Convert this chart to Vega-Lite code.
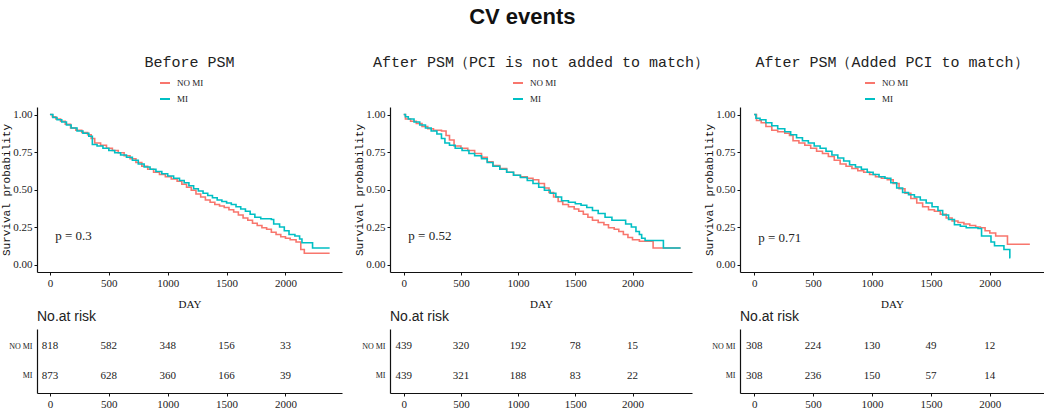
{
  "$schema": "https://vega.github.io/schema/vega-lite/v6.json",
  "padding": {"left": 0, "top": 6, "right": 0, "bottom": 0},
  "title": {"text": "CV events", "font": "Liberation Sans", "fontSize": 22, "fontWeight": "bold", "anchor": "middle", "color": "#111", "offset": 26},
  "datasets": {
    "km1": [
      {"group":"NO MI","day":0,"surv":1.0},{"group":"NO MI","day":20,"surv":0.985},{"group":"NO MI","day":50,"surv":0.97},{"group":"NO MI","day":90,"surv":0.955},{"group":"NO MI","day":130,"surv":0.935},{"group":"NO MI","day":175,"surv":0.91},{"group":"NO MI","day":220,"surv":0.895},{"group":"NO MI","day":270,"surv":0.88},{"group":"NO MI","day":320,"surv":0.865},{"group":"NO MI","day":350,"surv":0.84},{"group":"NO MI","day":380,"surv":0.81},{"group":"NO MI","day":430,"surv":0.795},{"group":"NO MI","day":480,"surv":0.775},{"group":"NO MI","day":530,"surv":0.76},{"group":"NO MI","day":580,"surv":0.745},{"group":"NO MI","day":630,"surv":0.725},{"group":"NO MI","day":680,"surv":0.705},{"group":"NO MI","day":730,"surv":0.68},{"group":"NO MI","day":780,"surv":0.655},{"group":"NO MI","day":830,"surv":0.635},{"group":"NO MI","day":880,"surv":0.615},{"group":"NO MI","day":930,"surv":0.6},{"group":"NO MI","day":980,"surv":0.585},{"group":"NO MI","day":1030,"surv":0.57},{"group":"NO MI","day":1080,"surv":0.555},{"group":"NO MI","day":1120,"surv":0.535},{"group":"NO MI","day":1160,"surv":0.515},{"group":"NO MI","day":1200,"surv":0.495},{"group":"NO MI","day":1240,"surv":0.47},{"group":"NO MI","day":1280,"surv":0.45},{"group":"NO MI","day":1320,"surv":0.43},{"group":"NO MI","day":1360,"surv":0.415},{"group":"NO MI","day":1400,"surv":0.4},{"group":"NO MI","day":1440,"surv":0.39},{"group":"NO MI","day":1480,"surv":0.38},{"group":"NO MI","day":1520,"surv":0.365},{"group":"NO MI","day":1560,"surv":0.35},{"group":"NO MI","day":1600,"surv":0.33},{"group":"NO MI","day":1640,"surv":0.31},{"group":"NO MI","day":1680,"surv":0.295},{"group":"NO MI","day":1720,"surv":0.275},{"group":"NO MI","day":1760,"surv":0.26},{"group":"NO MI","day":1800,"surv":0.245},{"group":"NO MI","day":1840,"surv":0.235},{"group":"NO MI","day":1880,"surv":0.215},{"group":"NO MI","day":1920,"surv":0.2},{"group":"NO MI","day":1960,"surv":0.185},{"group":"NO MI","day":2000,"surv":0.175},{"group":"NO MI","day":2040,"surv":0.165},{"group":"NO MI","day":2090,"surv":0.15},{"group":"NO MI","day":2130,"surv":0.1},{"group":"NO MI","day":2160,"surv":0.075},{"group":"NO MI","day":2375,"surv":0.075},
      {"group":"MI","day":0,"surv":1.0},{"group":"MI","day":25,"surv":0.98},{"group":"MI","day":60,"surv":0.965},{"group":"MI","day":100,"surv":0.95},{"group":"MI","day":140,"surv":0.93},{"group":"MI","day":180,"surv":0.91},{"group":"MI","day":230,"surv":0.89},{"group":"MI","day":280,"surv":0.875},{"group":"MI","day":330,"surv":0.855},{"group":"MI","day":360,"surv":0.8},{"group":"MI","day":400,"surv":0.79},{"group":"MI","day":450,"surv":0.775},{"group":"MI","day":500,"surv":0.76},{"group":"MI","day":550,"surv":0.745},{"group":"MI","day":600,"surv":0.73},{"group":"MI","day":650,"surv":0.715},{"group":"MI","day":700,"surv":0.695},{"group":"MI","day":750,"surv":0.67},{"group":"MI","day":800,"surv":0.65},{"group":"MI","day":850,"surv":0.635},{"group":"MI","day":900,"surv":0.62},{"group":"MI","day":950,"surv":0.605},{"group":"MI","day":1000,"surv":0.59},{"group":"MI","day":1050,"surv":0.575},{"group":"MI","day":1100,"surv":0.56},{"group":"MI","day":1140,"surv":0.545},{"group":"MI","day":1180,"surv":0.525},{"group":"MI","day":1220,"surv":0.505},{"group":"MI","day":1260,"surv":0.49},{"group":"MI","day":1300,"surv":0.475},{"group":"MI","day":1340,"surv":0.46},{"group":"MI","day":1380,"surv":0.445},{"group":"MI","day":1420,"surv":0.43},{"group":"MI","day":1460,"surv":0.42},{"group":"MI","day":1500,"surv":0.41},{"group":"MI","day":1540,"surv":0.4},{"group":"MI","day":1580,"surv":0.385},{"group":"MI","day":1620,"surv":0.37},{"group":"MI","day":1660,"surv":0.355},{"group":"MI","day":1700,"surv":0.335},{"group":"MI","day":1740,"surv":0.315},{"group":"MI","day":1790,"surv":0.305},{"group":"MI","day":1880,"surv":0.3},{"group":"MI","day":1900,"surv":0.27},{"group":"MI","day":1950,"surv":0.25},{"group":"MI","day":1990,"surv":0.225},{"group":"MI","day":2030,"surv":0.2},{"group":"MI","day":2080,"surv":0.19},{"group":"MI","day":2120,"surv":0.17},{"group":"MI","day":2140,"surv":0.145},{"group":"MI","day":2230,"surv":0.11},{"group":"MI","day":2375,"surv":0.11}
    ],
    "km2": [
      {"group":"NO MI","day":0,"surv":1.0},{"group":"NO MI","day":15,"surv":0.97},{"group":"NO MI","day":60,"surv":0.955},{"group":"NO MI","day":110,"surv":0.94},{"group":"NO MI","day":160,"surv":0.92},{"group":"NO MI","day":210,"surv":0.905},{"group":"NO MI","day":260,"surv":0.895},{"group":"NO MI","day":330,"surv":0.89},{"group":"NO MI","day":370,"surv":0.86},{"group":"NO MI","day":400,"surv":0.83},{"group":"NO MI","day":440,"surv":0.79},{"group":"NO MI","day":500,"surv":0.775},{"group":"NO MI","day":560,"surv":0.76},{"group":"NO MI","day":620,"surv":0.74},{"group":"NO MI","day":680,"surv":0.715},{"group":"NO MI","day":730,"surv":0.685},{"group":"NO MI","day":780,"surv":0.66},{"group":"NO MI","day":840,"surv":0.64},{"group":"NO MI","day":900,"surv":0.615},{"group":"NO MI","day":960,"surv":0.595},{"group":"NO MI","day":1020,"surv":0.585},{"group":"NO MI","day":1080,"surv":0.575},{"group":"NO MI","day":1130,"surv":0.565},{"group":"NO MI","day":1180,"surv":0.54},{"group":"NO MI","day":1230,"surv":0.51},{"group":"NO MI","day":1270,"surv":0.48},{"group":"NO MI","day":1310,"surv":0.45},{"group":"NO MI","day":1350,"surv":0.42},{"group":"NO MI","day":1390,"surv":0.4},{"group":"NO MI","day":1440,"surv":0.385},{"group":"NO MI","day":1490,"surv":0.37},{"group":"NO MI","day":1530,"surv":0.355},{"group":"NO MI","day":1570,"surv":0.335},{"group":"NO MI","day":1610,"surv":0.315},{"group":"NO MI","day":1650,"surv":0.295},{"group":"NO MI","day":1700,"surv":0.28},{"group":"NO MI","day":1750,"surv":0.265},{"group":"NO MI","day":1790,"surv":0.245},{"group":"NO MI","day":1840,"surv":0.235},{"group":"NO MI","day":1880,"surv":0.22},{"group":"NO MI","day":1920,"surv":0.2},{"group":"NO MI","day":1960,"surv":0.18},{"group":"NO MI","day":2000,"surv":0.165},{"group":"NO MI","day":2060,"surv":0.155},{"group":"NO MI","day":2180,"surv":0.11},{"group":"NO MI","day":2420,"surv":0.11},
      {"group":"MI","day":0,"surv":1.0},{"group":"MI","day":15,"surv":0.985},{"group":"MI","day":40,"surv":0.97},{"group":"MI","day":90,"surv":0.95},{"group":"MI","day":140,"surv":0.93},{"group":"MI","day":190,"surv":0.91},{"group":"MI","day":240,"surv":0.89},{"group":"MI","day":290,"surv":0.87},{"group":"MI","day":330,"surv":0.84},{"group":"MI","day":360,"surv":0.81},{"group":"MI","day":400,"surv":0.795},{"group":"MI","day":450,"surv":0.775},{"group":"MI","day":510,"surv":0.76},{"group":"MI","day":570,"surv":0.74},{"group":"MI","day":620,"surv":0.725},{"group":"MI","day":680,"surv":0.705},{"group":"MI","day":730,"surv":0.68},{"group":"MI","day":780,"surv":0.655},{"group":"MI","day":840,"surv":0.635},{"group":"MI","day":900,"surv":0.615},{"group":"MI","day":960,"surv":0.595},{"group":"MI","day":1020,"surv":0.58},{"group":"MI","day":1080,"surv":0.56},{"group":"MI","day":1130,"surv":0.54},{"group":"MI","day":1180,"surv":0.515},{"group":"MI","day":1230,"surv":0.495},{"group":"MI","day":1280,"surv":0.475},{"group":"MI","day":1330,"surv":0.45},{"group":"MI","day":1380,"surv":0.425},{"group":"MI","day":1440,"surv":0.415},{"group":"MI","day":1500,"surv":0.405},{"group":"MI","day":1550,"surv":0.395},{"group":"MI","day":1600,"surv":0.38},{"group":"MI","day":1650,"surv":0.36},{"group":"MI","day":1700,"surv":0.34},{"group":"MI","day":1760,"surv":0.315},{"group":"MI","day":1820,"surv":0.295},{"group":"MI","day":1940,"surv":0.27},{"group":"MI","day":1990,"surv":0.25},{"group":"MI","day":2030,"surv":0.22},{"group":"MI","day":2060,"surv":0.2},{"group":"MI","day":2080,"surv":0.175},{"group":"MI","day":2110,"surv":0.16},{"group":"MI","day":2270,"surv":0.11},{"group":"MI","day":2420,"surv":0.11}
    ],
    "km3": [
      {"group":"NO MI","day":0,"surv":1.0},{"group":"NO MI","day":20,"surv":0.96},{"group":"NO MI","day":60,"surv":0.945},{"group":"NO MI","day":100,"surv":0.92},{"group":"NO MI","day":150,"surv":0.895},{"group":"NO MI","day":200,"surv":0.885},{"group":"NO MI","day":260,"surv":0.875},{"group":"NO MI","day":300,"surv":0.86},{"group":"NO MI","day":330,"surv":0.825},{"group":"NO MI","day":380,"surv":0.81},{"group":"NO MI","day":430,"surv":0.795},{"group":"NO MI","day":480,"surv":0.775},{"group":"NO MI","day":530,"surv":0.755},{"group":"NO MI","day":580,"surv":0.74},{"group":"NO MI","day":630,"surv":0.72},{"group":"NO MI","day":680,"surv":0.695},{"group":"NO MI","day":730,"surv":0.67},{"group":"NO MI","day":780,"surv":0.655},{"group":"NO MI","day":830,"surv":0.64},{"group":"NO MI","day":880,"surv":0.625},{"group":"NO MI","day":930,"surv":0.615},{"group":"NO MI","day":980,"surv":0.6},{"group":"NO MI","day":1030,"surv":0.585},{"group":"NO MI","day":1080,"surv":0.575},{"group":"NO MI","day":1130,"surv":0.565},{"group":"NO MI","day":1180,"surv":0.54},{"group":"NO MI","day":1230,"surv":0.505},{"group":"NO MI","day":1280,"surv":0.475},{"group":"NO MI","day":1330,"surv":0.44},{"group":"NO MI","day":1380,"surv":0.41},{"group":"NO MI","day":1430,"surv":0.385},{"group":"NO MI","day":1480,"surv":0.365},{"group":"NO MI","day":1530,"surv":0.355},{"group":"NO MI","day":1580,"surv":0.335},{"group":"NO MI","day":1630,"surv":0.31},{"group":"NO MI","day":1680,"surv":0.29},{"group":"NO MI","day":1730,"surv":0.28},{"group":"NO MI","day":1780,"surv":0.27},{"group":"NO MI","day":1830,"surv":0.26},{"group":"NO MI","day":1880,"surv":0.25},{"group":"NO MI","day":1920,"surv":0.245},{"group":"NO MI","day":1960,"surv":0.225},{"group":"NO MI","day":2000,"surv":0.21},{"group":"NO MI","day":2050,"surv":0.19},{"group":"NO MI","day":2150,"surv":0.135},{"group":"NO MI","day":2340,"surv":0.135},
      {"group":"MI","day":0,"surv":1.0},{"group":"MI","day":15,"surv":0.975},{"group":"MI","day":50,"surv":0.965},{"group":"MI","day":100,"surv":0.945},{"group":"MI","day":150,"surv":0.925},{"group":"MI","day":200,"surv":0.905},{"group":"MI","day":260,"surv":0.885},{"group":"MI","day":310,"surv":0.865},{"group":"MI","day":360,"surv":0.845},{"group":"MI","day":410,"surv":0.825},{"group":"MI","day":460,"surv":0.81},{"group":"MI","day":510,"surv":0.79},{"group":"MI","day":560,"surv":0.775},{"group":"MI","day":610,"surv":0.755},{"group":"MI","day":660,"surv":0.73},{"group":"MI","day":710,"surv":0.71},{"group":"MI","day":760,"surv":0.69},{"group":"MI","day":810,"surv":0.665},{"group":"MI","day":860,"surv":0.65},{"group":"MI","day":910,"surv":0.635},{"group":"MI","day":960,"surv":0.615},{"group":"MI","day":1010,"surv":0.6},{"group":"MI","day":1060,"surv":0.585},{"group":"MI","day":1110,"surv":0.575},{"group":"MI","day":1160,"surv":0.545},{"group":"MI","day":1210,"surv":0.51},{"group":"MI","day":1260,"surv":0.48},{"group":"MI","day":1310,"surv":0.465},{"group":"MI","day":1360,"surv":0.45},{"group":"MI","day":1410,"surv":0.43},{"group":"MI","day":1460,"surv":0.41},{"group":"MI","day":1510,"surv":0.385},{"group":"MI","day":1560,"surv":0.36},{"group":"MI","day":1600,"surv":0.33},{"group":"MI","day":1650,"surv":0.3},{"group":"MI","day":1700,"surv":0.265},{"group":"MI","day":1750,"surv":0.255},{"group":"MI","day":1800,"surv":0.245},{"group":"MI","day":1900,"surv":0.24},{"group":"MI","day":1930,"surv":0.19},{"group":"MI","day":2010,"surv":0.15},{"group":"MI","day":2040,"surv":0.125},{"group":"MI","day":2120,"surv":0.1},{"group":"MI","day":2170,"surv":0.045},{"group":"MI","day":2175,"surv":0.045}
    ],
    "risk1": [
      {"group":"NO MI","day":0,"n":818},{"group":"NO MI","day":500,"n":582},{"group":"NO MI","day":1000,"n":348},{"group":"NO MI","day":1500,"n":156},{"group":"NO MI","day":2000,"n":33},
      {"group":"MI","day":0,"n":873},{"group":"MI","day":500,"n":628},{"group":"MI","day":1000,"n":360},{"group":"MI","day":1500,"n":166},{"group":"MI","day":2000,"n":39}
    ],
    "risk2": [
      {"group":"NO MI","day":0,"n":439},{"group":"NO MI","day":500,"n":320},{"group":"NO MI","day":1000,"n":192},{"group":"NO MI","day":1500,"n":78},{"group":"NO MI","day":2000,"n":15},
      {"group":"MI","day":0,"n":439},{"group":"MI","day":500,"n":321},{"group":"MI","day":1000,"n":188},{"group":"MI","day":1500,"n":83},{"group":"MI","day":2000,"n":22}
    ],
    "risk3": [
      {"group":"NO MI","day":0,"n":308},{"group":"NO MI","day":500,"n":224},{"group":"NO MI","day":1000,"n":130},{"group":"NO MI","day":1500,"n":49},{"group":"NO MI","day":2000,"n":12},
      {"group":"MI","day":0,"n":308},{"group":"MI","day":500,"n":236},{"group":"MI","day":1000,"n":150},{"group":"MI","day":1500,"n":57},{"group":"MI","day":2000,"n":14}
    ]
  },
  "vconcat": [
    {
      "hconcat": [
        {
          "title": {"text": "Before PSM"},
          "width": 305, "height": 165,
          "layer": [
            {
              "data": {"name": "km1"},
              "mark": {"type": "line", "interpolate": "step-after", "strokeWidth": 1.6},
              "encoding": {
                "x": {"field": "day", "type": "quantitative", "scale": {"domain": [-110, 2480], "nice": false, "zero": false}, "axis": {"values": [0, 500, 1000, 1500, 2000], "format": "d", "title": "DAY"}},
                "y": {"field": "surv", "type": "quantitative", "scale": {"domain": [-0.05, 1.05], "nice": false}, "axis": {"values": [0, 0.25, 0.5, 0.75, 1], "format": ".2f", "title": "Survival probability"}},
                "color": {"field": "group", "type": "nominal", "scale": {"domain": ["NO MI", "MI"], "range": ["#F8766D", "#00BFC4"]}, "legend": {"orient": "none", "legendX": 122, "legendY": -30}}
              }
            },
            {
              "data": {"values": [{"day": 45, "surv": 0.19, "label": "p = 0.3"}]},
              "mark": {"type": "text", "align": "left", "baseline": "middle", "font": "Liberation Serif", "fontSize": 13, "color": "#222"},
              "encoding": {"x": {"field": "day", "type": "quantitative"}, "y": {"field": "surv", "type": "quantitative"}, "text": {"field": "label"}}
            }
          ]
        },
        {
          "title": {"text": "After PSM（PCI is not added to match）"},
          "width": 302, "height": 165,
          "layer": [
            {
              "data": {"name": "km2"},
              "mark": {"type": "line", "interpolate": "step-after", "strokeWidth": 1.6},
              "encoding": {
                "x": {"field": "day", "type": "quantitative", "scale": {"domain": [-120, 2520], "nice": false, "zero": false}, "axis": {"values": [0, 500, 1000, 1500, 2000], "format": "d", "title": "DAY"}},
                "y": {"field": "surv", "type": "quantitative", "scale": {"domain": [-0.05, 1.05], "nice": false}, "axis": {"values": [0, 0.25, 0.5, 0.75, 1], "format": ".2f", "title": "Survival probability"}},
                "color": {"field": "group", "type": "nominal", "scale": {"domain": ["NO MI", "MI"], "range": ["#F8766D", "#00BFC4"]}, "legend": {"orient": "none", "legendX": 122, "legendY": -30}}
              }
            },
            {
              "data": {"values": [{"day": 40, "surv": 0.19, "label": "p = 0.52"}]},
              "mark": {"type": "text", "align": "left", "baseline": "middle", "font": "Liberation Serif", "fontSize": 13, "color": "#222"},
              "encoding": {"x": {"field": "day", "type": "quantitative"}, "y": {"field": "surv", "type": "quantitative"}, "text": {"field": "label"}}
            }
          ]
        },
        {
          "title": {"text": "After PSM（Added PCI to match）"},
          "width": 304, "height": 165,
          "layer": [
            {
              "data": {"name": "km3"},
              "mark": {"type": "line", "interpolate": "step-after", "strokeWidth": 1.6},
              "encoding": {
                "x": {"field": "day", "type": "quantitative", "scale": {"domain": [-120, 2460], "nice": false, "zero": false}, "axis": {"values": [0, 500, 1000, 1500, 2000], "format": "d", "title": "DAY"}},
                "y": {"field": "surv", "type": "quantitative", "scale": {"domain": [-0.05, 1.05], "nice": false}, "axis": {"values": [0, 0.25, 0.5, 0.75, 1], "format": ".2f", "title": "Survival probability"}},
                "color": {"field": "group", "type": "nominal", "scale": {"domain": ["NO MI", "MI"], "range": ["#F8766D", "#00BFC4"]}, "legend": {"orient": "none", "legendX": 124, "legendY": -30}}
              }
            },
            {
              "data": {"values": [{"day": 35, "surv": 0.18, "label": "p = 0.71"}]},
              "mark": {"type": "text", "align": "left", "baseline": "middle", "font": "Liberation Serif", "fontSize": 13, "color": "#222"},
              "encoding": {"x": {"field": "day", "type": "quantitative"}, "y": {"field": "surv", "type": "quantitative"}, "text": {"field": "label"}}
            }
          ]
        }
      ],
      "bounds": "flush",
      "spacing": 48,
      "resolve": {"scale": {"color": "independent", "x": "independent", "y": "independent"}, "legend": {"color": "independent"}}
    },
    {
      "hconcat": [
        {
          "title": {"text": "No.at risk", "anchor": "start", "frame": "group", "font": "Liberation Sans", "fontSize": 14, "fontWeight": "normal", "offset": 5},
          "width": 305, "height": 64,
          "data": {"name": "risk1"},
          "mark": {"type": "text", "font": "Liberation Serif", "fontSize": 11, "color": "#222"},
          "encoding": {
            "x": {"field": "day", "type": "quantitative", "scale": {"domain": [-110, 2480], "nice": false, "zero": false}, "axis": {"values": [0, 500, 1000, 1500, 2000], "format": "d", "title": null}},
            "y": {"field": "group", "type": "nominal", "sort": ["NO MI", "MI"], "scale": {"type": "point", "padding": 0.6}, "axis": {"title": null, "ticks": false, "labelFontSize": 8, "labelPadding": 5}},
            "text": {"field": "n", "type": "quantitative"}
          }
        },
        {
          "title": {"text": "No.at risk", "anchor": "start", "frame": "group", "font": "Liberation Sans", "fontSize": 14, "fontWeight": "normal", "offset": 5},
          "width": 302, "height": 64,
          "data": {"name": "risk2"},
          "mark": {"type": "text", "font": "Liberation Serif", "fontSize": 11, "color": "#222"},
          "encoding": {
            "x": {"field": "day", "type": "quantitative", "scale": {"domain": [-120, 2520], "nice": false, "zero": false}, "axis": {"values": [0, 500, 1000, 1500, 2000], "format": "d", "title": null}},
            "y": {"field": "group", "type": "nominal", "sort": ["NO MI", "MI"], "scale": {"type": "point", "padding": 0.6}, "axis": {"title": null, "ticks": false, "labelFontSize": 8, "labelPadding": 5}},
            "text": {"field": "n", "type": "quantitative"}
          }
        },
        {
          "title": {"text": "No.at risk", "anchor": "start", "frame": "group", "font": "Liberation Sans", "fontSize": 14, "fontWeight": "normal", "offset": 5},
          "width": 304, "height": 64,
          "data": {"name": "risk3"},
          "mark": {"type": "text", "font": "Liberation Serif", "fontSize": 11, "color": "#222"},
          "encoding": {
            "x": {"field": "day", "type": "quantitative", "scale": {"domain": [-120, 2460], "nice": false, "zero": false}, "axis": {"values": [0, 500, 1000, 1500, 2000], "format": "d", "title": null}},
            "y": {"field": "group", "type": "nominal", "sort": ["NO MI", "MI"], "scale": {"type": "point", "padding": 0.6}, "axis": {"title": null, "ticks": false, "labelFontSize": 8, "labelPadding": 5}},
            "text": {"field": "n", "type": "quantitative"}
          }
        }
      ],
      "bounds": "flush",
      "spacing": 48,
      "resolve": {"scale": {"x": "independent", "y": "independent"}}
    }
  ],
  "spacing": 1,
  "resolve": {"scale": {"color": "independent", "x": "independent", "y": "independent"}, "legend": {"color": "independent"}},
  "config": {
    "view": {"stroke": null},
    "axis": {"grid": false, "domainColor": "#111", "domainWidth": 1.2, "tickColor": "#111", "tickSize": 3, "labelPadding": 2, "labelFont": "Liberation Serif", "labelFontSize": 11, "labelColor": "#222", "titleFont": "Liberation Serif", "titleFontSize": 11, "titleFontWeight": "normal", "titleColor": "#111"},
    "axisX": {"titlePadding": 10},
    "axisY": {"titleFont": "Liberation Mono", "titleFontSize": 11, "titlePadding": 1},
    "legend": {"title": null, "direction": "vertical", "symbolType": "stroke", "symbolStrokeWidth": 2, "symbolSize": 100, "labelFont": "Liberation Serif", "labelFontSize": 9, "labelColor": "#222", "rowPadding": 5, "labelOffset": 6},
    "title": {"font": "Liberation Mono", "fontSize": 15, "fontWeight": "normal", "color": "#222", "anchor": "middle", "offset": 7},
    "text": {"font": "Liberation Serif"}
  }
}
